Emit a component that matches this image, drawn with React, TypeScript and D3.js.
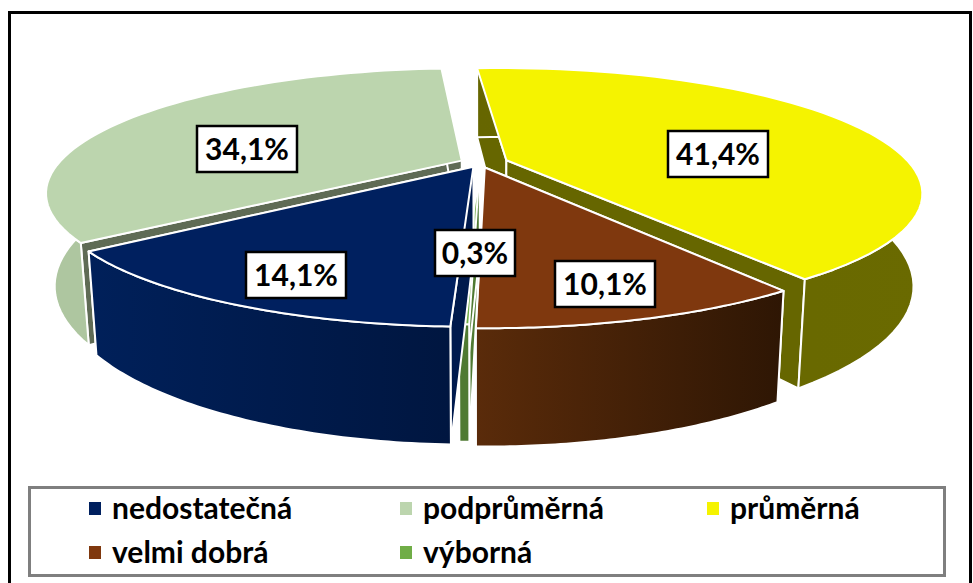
import React from "react";
import * as d3 from "d3";

const categories = ["průměrná", "velmi dobrá", "výborná", "nedostatečná", "podprůměrná"];
const shares = [41.4, 10.1, 0.3, 14.1, 34.1];
const labels = ["41,4%", "10,1%", "0,3%", "14,1%", "34,1%"];
const explode = [0.07, 0.04, 0.02, 0.035, 0.05];
const topColors = ["#f5f300", "#7f380e", "#70ad47", "#00205f", "#bcd5ae"];
const wallColors = ["#666600", "#4f2708", "#4f7a32", "#001a4d", "#5f6b55"];
const outerFrom = ["#666600", "#5a2b0a", "#4f7a32", "#00205a", "#aec6a0"];
const outerTo = ["#6a6a00", "#2e1604", "#4f7a32", "#001640", "#aec6a0"];
const labelCentres: [number, number][] = [[718, 154], [605, 284], [475, 253], [296, 275], [247, 149]];
const drawOrder = [4, 0, 1, 2, 3];
const legendOrder = [3, 4, 0, 1, 2];
const legendPos: [number, number][] = [[89, 509], [400, 509], [707, 509], [89, 553], [400, 553]];

const W = 973, H = 583;
const cx = 480, cy = 163, R = 403, K = 117, P = 0.255, DEPTH = 87, SHRINK = 0.98, ROT = -0.075;
const font = "Lato, 'Open Sans', sans-serif";

function project(u: number, v: number, h: number): [number, number] {
  const s = 1 / (1 - P * v);
  const x = cx + R * u * s;
  const y = cy + K * v * s;
  return h ? [cx + (x - cx) * SHRINK, y + DEPTH * s] : [x, y];
}

const pie = d3.pie<number>().sort(null).startAngle(ROT).endAngle(ROT + 2 * Math.PI);
const slices = pie(shares);
const line = d3.line();

export default function App() {
  const defs: React.ReactNode[] = [];
  const shapes = drawOrder.map((i) => {
    const sl = slices[i];
    const mid = (sl.startAngle + sl.endAngle) / 2;
    const ou = explode[i] * Math.sin(mid), ov = -explode[i] * Math.cos(mid);
    const pt = (t: number | null, h: number) =>
      t === null ? project(ou, ov, h) : project(ou + Math.sin(t), ov - Math.cos(t), h);
    const steps = d3.range(0, 61).map((k) => sl.startAngle + ((sl.endAngle - sl.startAngle) * k) / 60);
    const top = [pt(null, 0), ...steps.map((t) => pt(t, 0))];
    const outer = [...steps.map((t) => pt(t, 0)), ...steps.slice().reverse().map((t) => pt(t, 1))];
    const startWall = [pt(null, 0), pt(sl.startAngle, 0), pt(sl.startAngle, 1), pt(null, 1)];
    const endWall = [pt(null, 0), pt(sl.endAngle, 0), pt(sl.endAngle, 1), pt(null, 1)];
    defs.push(
      <linearGradient key={i} id={`g${i}`} gradientUnits="objectBoundingBox" x1="0" x2="1" y1="0" y2="0">
        <stop offset="0" stopColor={outerFrom[i]} />
        <stop offset="1" stopColor={outerTo[i]} />
      </linearGradient>
    );
    const st = { stroke: "#fff", strokeWidth: 2, strokeLinejoin: "round" as const };
    return (
      <g key={categories[i]}>
        <path d={line(startWall)! + "Z"} fill={wallColors[i]} {...st} />
        <path d={line(endWall)! + "Z"} fill={wallColors[i]} {...st} />
        <path d={line(outer)! + "Z"} fill={`url(#g${i})`} {...st} />
        <path d={line(top)! + "Z"} fill={topColors[i]} {...st} />
      </g>
    );
  });
  return (
    <svg width={W} height={H} style={{ position: "absolute", left: 0, top: 0 }}>
      <defs>{defs}</defs>
      <rect x={0} y={0} width={W} height={H} fill="#fff" />
      <path d={`M9.5 ${H}V12.5H970.5V${H}`} fill="none" stroke="#000" strokeWidth={3} />
      {shapes}
      {labels.map((t, i) => {
        const [x, y] = labelCentres[i];
        const w = t.length === 4 ? 80 : 100;
        return (
          <g key={t}>
            <rect x={x - w / 2} y={y - 23} width={w} height={46} fill="#fff" stroke="#000" strokeWidth={2.5} />
            <text x={x} y={y + 11} textAnchor="middle" fontFamily={font} fontWeight={700} fontSize={30} fill="#000">{t}</text>
          </g>
        );
      })}
      <rect x={29.5} y={487.5} width={915} height={88} fill="#fff" stroke="#7f7f7f" strokeWidth={3} />
      {legendOrder.map((c, i) => {
        const [x, y] = legendPos[i];
        return (
          <g key={categories[c]}>
            <rect x={x} y={y - 7} width={12} height={13} fill={topColors[c]} />
            <text x={x + 23} y={y + 10} fontFamily={font} fontWeight={700} fontSize={30} fill="#000">{categories[c]}</text>
          </g>
        );
      })}
    </svg>
  );
}
